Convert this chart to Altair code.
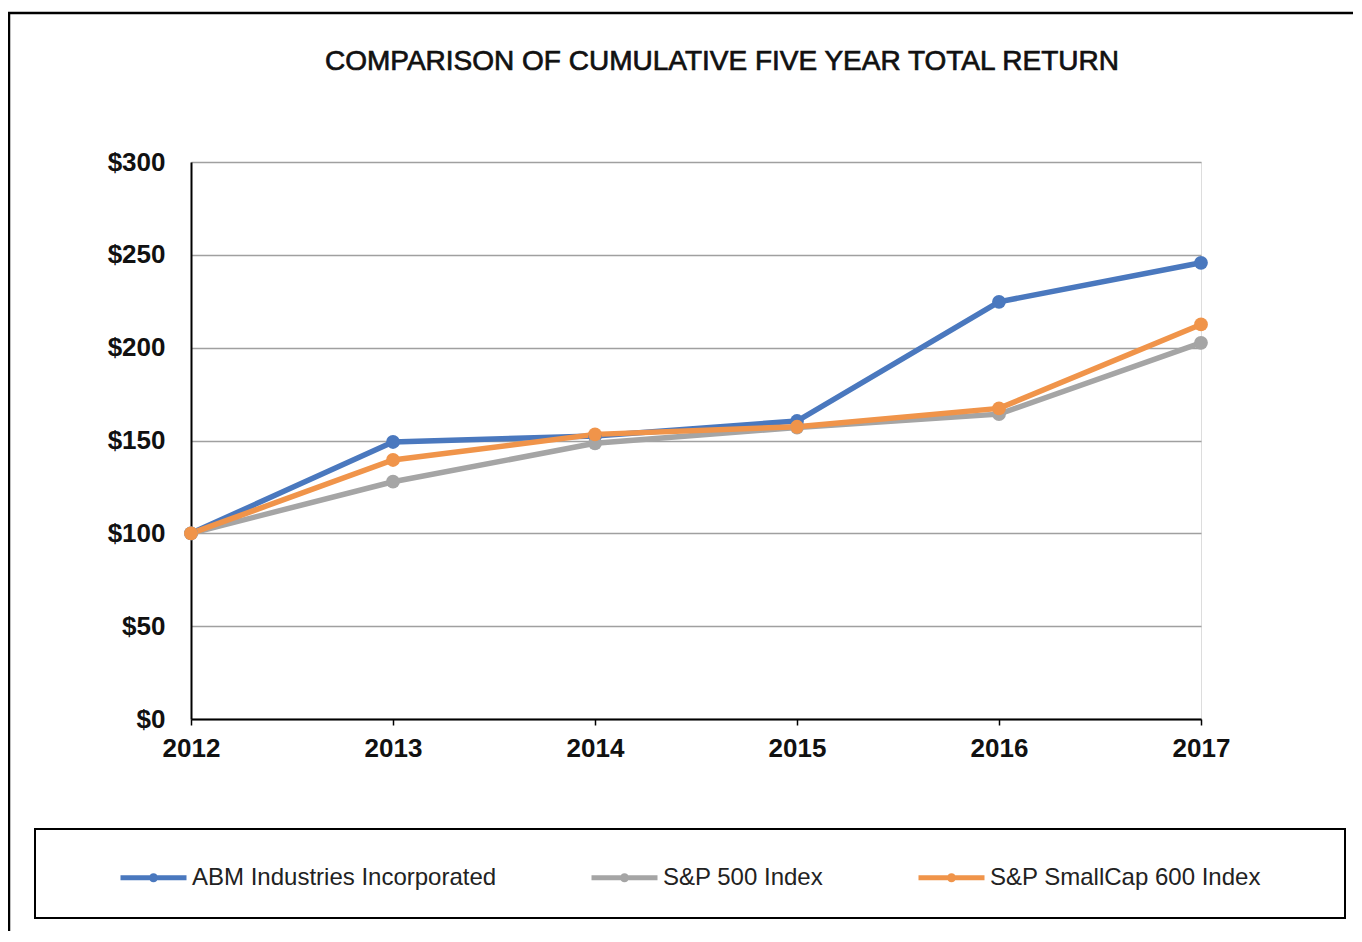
import altair as alt
import pandas as pd

years = [2012, 2013, 2014, 2015, 2016, 2017]
series_names = ["ABM Industries Incorporated", "S&P 500 Index", "S&P SmallCap 600 Index"]
abm = [100, 149.2, 152.4, 160.5, 224.7, 245.7]
sp500 = [100, 127.8, 148.5, 157.0, 164.2, 202.6]
smallcap = [100, 139.5, 153.3, 157.4, 167.3, 212.5]
colors = ["#4A78BE", "#A5A5A5", "#F0944A"]
y_ticks = [0, 50, 100, 150, 200, 250, 300]
title_text = "COMPARISON OF CUMULATIVE FIVE YEAR TOTAL RETURN"

rows = []
for name, vals in zip(series_names, [abm, sp500, smallcap]):
    for yr, v in zip(years, vals):
        rows.append({"Year": yr, "Series": name, "Value": v})
df = pd.DataFrame(rows)

FONT = "Liberation Sans"
W, H = 1010, 557

legend_symbol = "M-1,0H1M-0.06,0A0.06,0.06 0 1,0 0.06,0A0.06,0.06 0 1,0 -0.06,0"

lines = alt.Chart(df).mark_line(
    strokeWidth=5.5,
    point=alt.OverlayMarkDef(filled=True, size=190, opacity=1),
).encode(
    x=alt.X("Year:Q",
            scale=alt.Scale(domain=[2012, 2017], nice=False, zero=False),
            axis=alt.Axis(values=years, format="d", title=None, grid=False,
                          labelFont=FONT, labelFontSize=26, labelFontWeight="bold",
                          labelColor="#111111", tickSize=6, tickColor="black",
                          tickWidth=1.5, domainColor="black", domainWidth=2,
                          labelPadding=10, labelFlush=False)),
    y=alt.Y("Value:Q",
            scale=alt.Scale(domain=[0, 300], nice=False),
            axis=alt.Axis(values=y_ticks, format="$,.0f", title=None,
                          grid=True, gridColor="#A0A0A0", gridWidth=1.5,
                          labelFont=FONT, labelFontSize=26, labelFontWeight="bold",
                          labelColor="#111111", ticks=False, domainColor="black",
                          domainWidth=2, labelPadding=26)),
    color=alt.Color("Series:N",
                    scale=alt.Scale(domain=series_names, range=colors),
                    legend=alt.Legend(title=None, orient="none", direction="horizontal",
                                      legendX=-73, legendY=680,
                                      symbolType=legend_symbol, symbolSize=4356,
                                      symbolStrokeWidth=5, labelOffset=3,
                                      labelFont=FONT, labelFontSize=24, labelLimit=0,
                                      labelColor="#222222", columnPadding=84,
                                      padding=0)),
)

one = pd.DataFrame({"k": [0]})

frame = alt.Chart(one).mark_rect(fill=None, stroke="black", strokeWidth=2.5).encode(
    x=alt.value(-182), x2=alt.value(1400), y=alt.value(-149), y2=alt.value(1000)
)
legend_box = alt.Chart(one).mark_rect(fill=None, stroke="black", strokeWidth=2).encode(
    x=alt.value(-156), x2=alt.value(1154), y=alt.value(667), y2=alt.value(756)
)
title = alt.Chart(one).mark_text(
    text=title_text, font=FONT, fontSize=28, fontWeight="normal", color="#111111",
    stroke="#111111", strokeWidth=0.7, align="center", baseline="middle"
).encode(x=alt.value(531), y=alt.value(-100))

chart = alt.layer(frame, legend_box, title, lines).properties(
    width=W, height=H,
    autosize=alt.AutoSizeParams(type="none"),
    padding={"left": 183, "top": 154, "right": 152, "bottom": 212},
).configure_view(stroke="black", strokeWidth=2).configure(background="white")

chart.save("out.html", embed_options={"renderer": "svg", "actions": False})
